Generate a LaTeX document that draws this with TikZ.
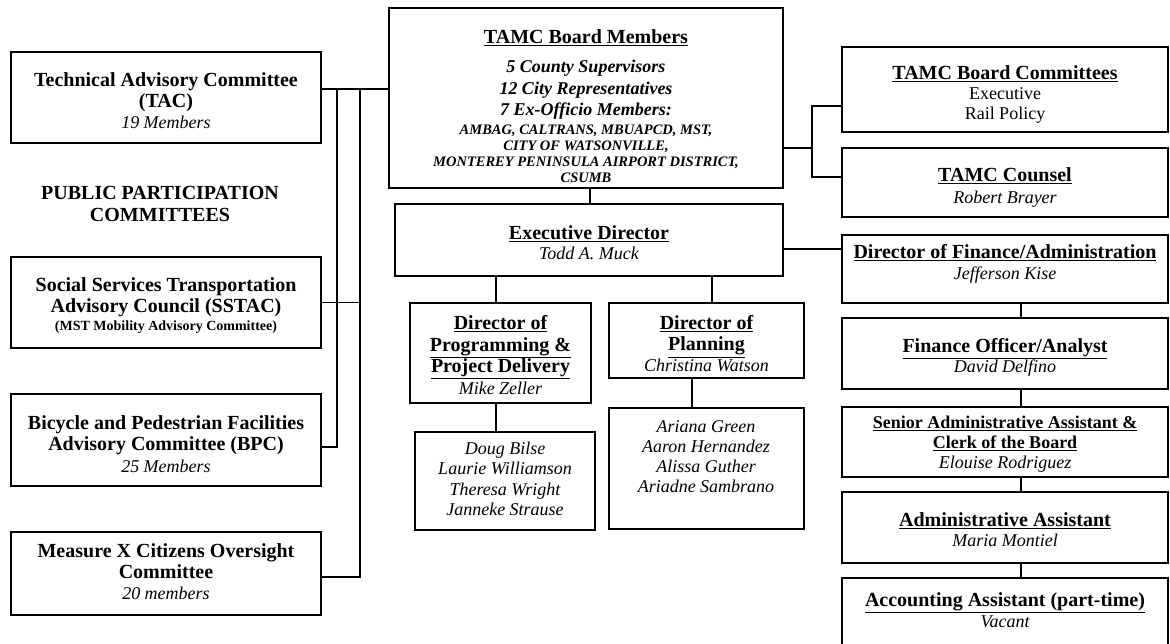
\documentclass[tikz,border=0pt]{standalone}
\usepackage{fontspec}
\setmainfont{Liberation Serif}
\usetikzlibrary{calc}
\newcommand\TT{\fontsize{20}{22}\selectfont\bfseries}
\newcommand\NN{\fontsize{18}{20.5}\selectfont\itshape}
\newcommand\RR{\fontsize{18}{20}\selectfont}
\newcommand\UL[1]{\underline{#1}}
\begin{document}
\begin{tikzpicture}[x=1pt,y=-1pt,
  box/.style={draw=black,line width=2pt,inner sep=0pt,outer sep=0pt},
  txt/.style={inner sep=0pt,align=center,text=black,font=\fontsize{18}{21.5}\selectfont},
  conn/.style={draw=black,line width=1.3pt}]
\useasboundingbox (0,0) rectangle (1170,643);
\clip (0,0) rectangle (1170,643);
\fill[white] (0,0) rectangle (1170,643);
% ---------- boxes ----------
\node[box,minimum width=310pt,minimum height=91pt] (tac) at (166,97.5) {};
\node[box,minimum width=310pt,minimum height=91pt] (sstac) at (166,302.5) {};
\node[box,minimum width=310pt,minimum height=92pt] (bpc) at (166,440) {};
\node[box,minimum width=310pt,minimum height=83pt] (mx) at (166,573.5) {};
\node[box,minimum width=394pt,minimum height=180pt] (board) at (586,98) {};
\node[box,minimum width=388pt,minimum height=72pt] (exec) at (589,240) {};
\node[box,minimum width=181pt,minimum height=100pt] (prog) at (500.5,353) {};
\node[box,minimum width=180pt,minimum height=98pt] (progteam) at (505,481) {};
\node[box,minimum width=195pt,minimum height=75pt] (plan) at (706.5,340.5) {};
\node[box,minimum width=195pt,minimum height=121pt] (planteam) at (706.5,468.5) {};
\node[box,minimum width=326pt,minimum height=85pt] (comm) at (1005,89.5) {};
\node[box,minimum width=326pt,minimum height=69pt] (counsel) at (1005,182.5) {};
\node[box,minimum width=326pt,minimum height=68pt] (dfin) at (1005,269) {};
\node[box,minimum width=326pt,minimum height=71pt] (fofficer) at (1005,353.5) {};
\node[box,minimum width=326pt,minimum height=70pt] (senior) at (1005,442) {};
\node[box,minimum width=326pt,minimum height=71pt] (admin) at (1005,527.5) {};
\node[box,minimum width=326pt,minimum height=90pt] (acct) at (1005,623) {};
% ---------- texts ----------
\node[txt,font=\fontsize{18}{21}\selectfont] (tacT) at (166,101) {\TT Technical Advisory Committee\\\TT (TAC)\\\NN 19 Members};
\node[txt,font=\fontsize{18}{22}\selectfont] (ppc) at (160,204) {\TT PUBLIC PARTICIPATION\\\TT COMMITTEES};
\node[txt,font=\fontsize{18}{21}\selectfont] (sstacT) at (166,306) {\TT Social Services Transportation\\\TT Advisory Council (SSTAC)\\[-3pt]\fontsize{14}{16}\selectfont\bfseries (MST Mobility Advisory Committee)};
\node[txt,font=\fontsize{18}{21.5}\selectfont] (bpcT) at (166,444) {\TT Bicycle and Pedestrian Facilities\\\TT Advisory Committee (BPC)\\\NN 25 Members};
\node[txt,font=\fontsize{18}{21}\selectfont] (mxT) at (166,572) {\TT Measure X Citizens Oversight\\\TT Committee\\\NN 20 members};
\node[txt,font=\fontsize{14.5}{16}\selectfont] (boardT) at (586,106) {\TT\UL{TAMC Board Members}\\[13pt]
  \fontsize{18}{20}\selectfont\bfseries\itshape 5 County Supervisors\\[5pt]
  \fontsize{18}{20}\selectfont\bfseries\itshape 12 City Representatives\\[3pt]
  \fontsize{18}{20}\selectfont\bfseries\itshape 7 Ex-Officio Members:\\[3pt]
  \fontsize{14.5}{16}\selectfont\bfseries\itshape AMBAG, CALTRANS, MBUAPCD, MST,\\
  \fontsize{14.5}{16}\selectfont\bfseries\itshape CITY OF WATSONVILLE,\\
  \fontsize{14.5}{16}\selectfont\bfseries\itshape MONTEREY PENINSULA AIRPORT DISTRICT,\\
  \fontsize{14.5}{16}\selectfont\bfseries\itshape CSUMB};
\node[txt,font=\fontsize{18}{20}\selectfont] (commT) at (1005,95) {\TT\UL{TAMC Board Committees}\\\RR Executive\\\RR Rail Policy};
\node[txt,font=\fontsize{18}{21}\selectfont] (counselT) at (1005,187.5) {\TT\UL{TAMC Counsel}\\\NN Robert Brayer};
\node[txt,font=\fontsize{18}{20}\selectfont] (execT) at (589,243) {\TT\UL{Executive Director}\\\NN Todd A. Muck};
\node[txt,font=\fontsize{18}{21.5}\selectfont] (progT) at (500.5,355) {\TT\UL{Director of}\\\TT\UL{Programming \&}\\\TT\UL{Project Delivery}\\\NN Mike Zeller};
\node[txt,font=\fontsize{18}{20.5}\selectfont] (progteamT) at (505,479) {\NN Doug Bilse\\\NN Laurie Williamson\\\NN Theresa Wright\\\NN Janneke Strause};
\node[txt,font=\fontsize{18}{21}\selectfont] (planT) at (706.5,344) {\TT\UL{Director of}\\\TT\UL{Planning}\\\NN Christina Watson};
\node[txt,font=\fontsize{18}{20}\selectfont] (planteamT) at (706,457) {\NN Ariana Green\\\NN Aaron Hernandez\\\NN Alissa Guther\\\NN Ariadne Sambrano};
\node[txt,font=\fontsize{18}{21}\selectfont] (dfinT) at (1005,263.5) {\TT\UL{Director of Finance/Administration}\\\NN Jefferson Kise};
\node[txt,font=\fontsize{18}{20}\selectfont] (fofficerT) at (1005,357) {\TT\UL{Finance Officer/Analyst}\\\NN David Delfino};
\node[txt,font=\fontsize{18}{20}\selectfont] (seniorT) at (1005,444) {\fontsize{18}{20}\selectfont\bfseries\UL{Senior Administrative Assistant \&}\\\fontsize{18}{20}\selectfont\bfseries\UL{Clerk of the Board}\\\NN Elouise Rodriguez};
\node[txt,font=\fontsize{18}{20}\selectfont] (adminT) at (1005,530) {\TT\UL{Administrative Assistant}\\\NN Maria Montiel};
\node[txt,font=\fontsize{18}{21}\selectfont] (acctT) at (1005,610.5) {\TT\UL{Accounting Assistant (part-time)}\\\NN Vacant};
% ---------- junctions ----------
\coordinate (jL1) at (337,89);
\coordinate (jL2) at (360,89);
\coordinate (jBPC) at (337,447);
\coordinate (jMX) at (360,577);
\coordinate (jR) at (812,148);
\coordinate (jRc1) at (812,106);
\coordinate (jRc2) at (812,177);
\coordinate (jF) at (800,249);
% ---------- connectors ----------
\draw[conn] (tac.east |- jL1) -- (jL2) -- (board.west |- jL2);
\draw[conn] (jL1) |- (bpc.east |- jBPC);
\draw[conn] (jL2) |- (mx.east |- jMX);
\draw[conn] (sstac.east) -- (sstac.east -| jL2);
\draw[conn] (board.east |- jR) -- (jR);
\draw[conn] (jRc1 -| comm.west) -- (jRc1) -- (jRc2) -- (jRc2 -| counsel.west);
\draw[conn] ([xshift=4pt]board.south) -- ([xshift=4pt]board.south |- exec.north);
\draw[conn] (exec.east |- jF) -- (jF -| dfin.west);
\draw[conn] ([xshift=-4.5pt]prog.north) -- ([xshift=-4.5pt]prog.north |- exec.south);
\draw[conn] ([xshift=5.5pt]plan.north) -- ([xshift=5.5pt]plan.north |- exec.south);
\draw[conn] ([xshift=-4.5pt]prog.south) -- ([xshift=-4.5pt]prog.south |- progteam.north);
\draw[conn] ([xshift=-14.5pt]plan.south) -- ([xshift=-14.5pt]plan.south |- planteam.north);
\draw[conn] ([xshift=16pt]dfin.south) -- ([xshift=16pt]dfin.south |- fofficer.north);
\draw[conn] ([xshift=16pt]fofficer.south) -- ([xshift=16pt]fofficer.south |- senior.north);
\draw[conn] ([xshift=16pt]senior.south) -- ([xshift=16pt]senior.south |- admin.north);
\draw[conn] ([xshift=16pt]admin.south) -- ([xshift=16pt]admin.south |- acct.north);
\end{tikzpicture}
\end{document}
